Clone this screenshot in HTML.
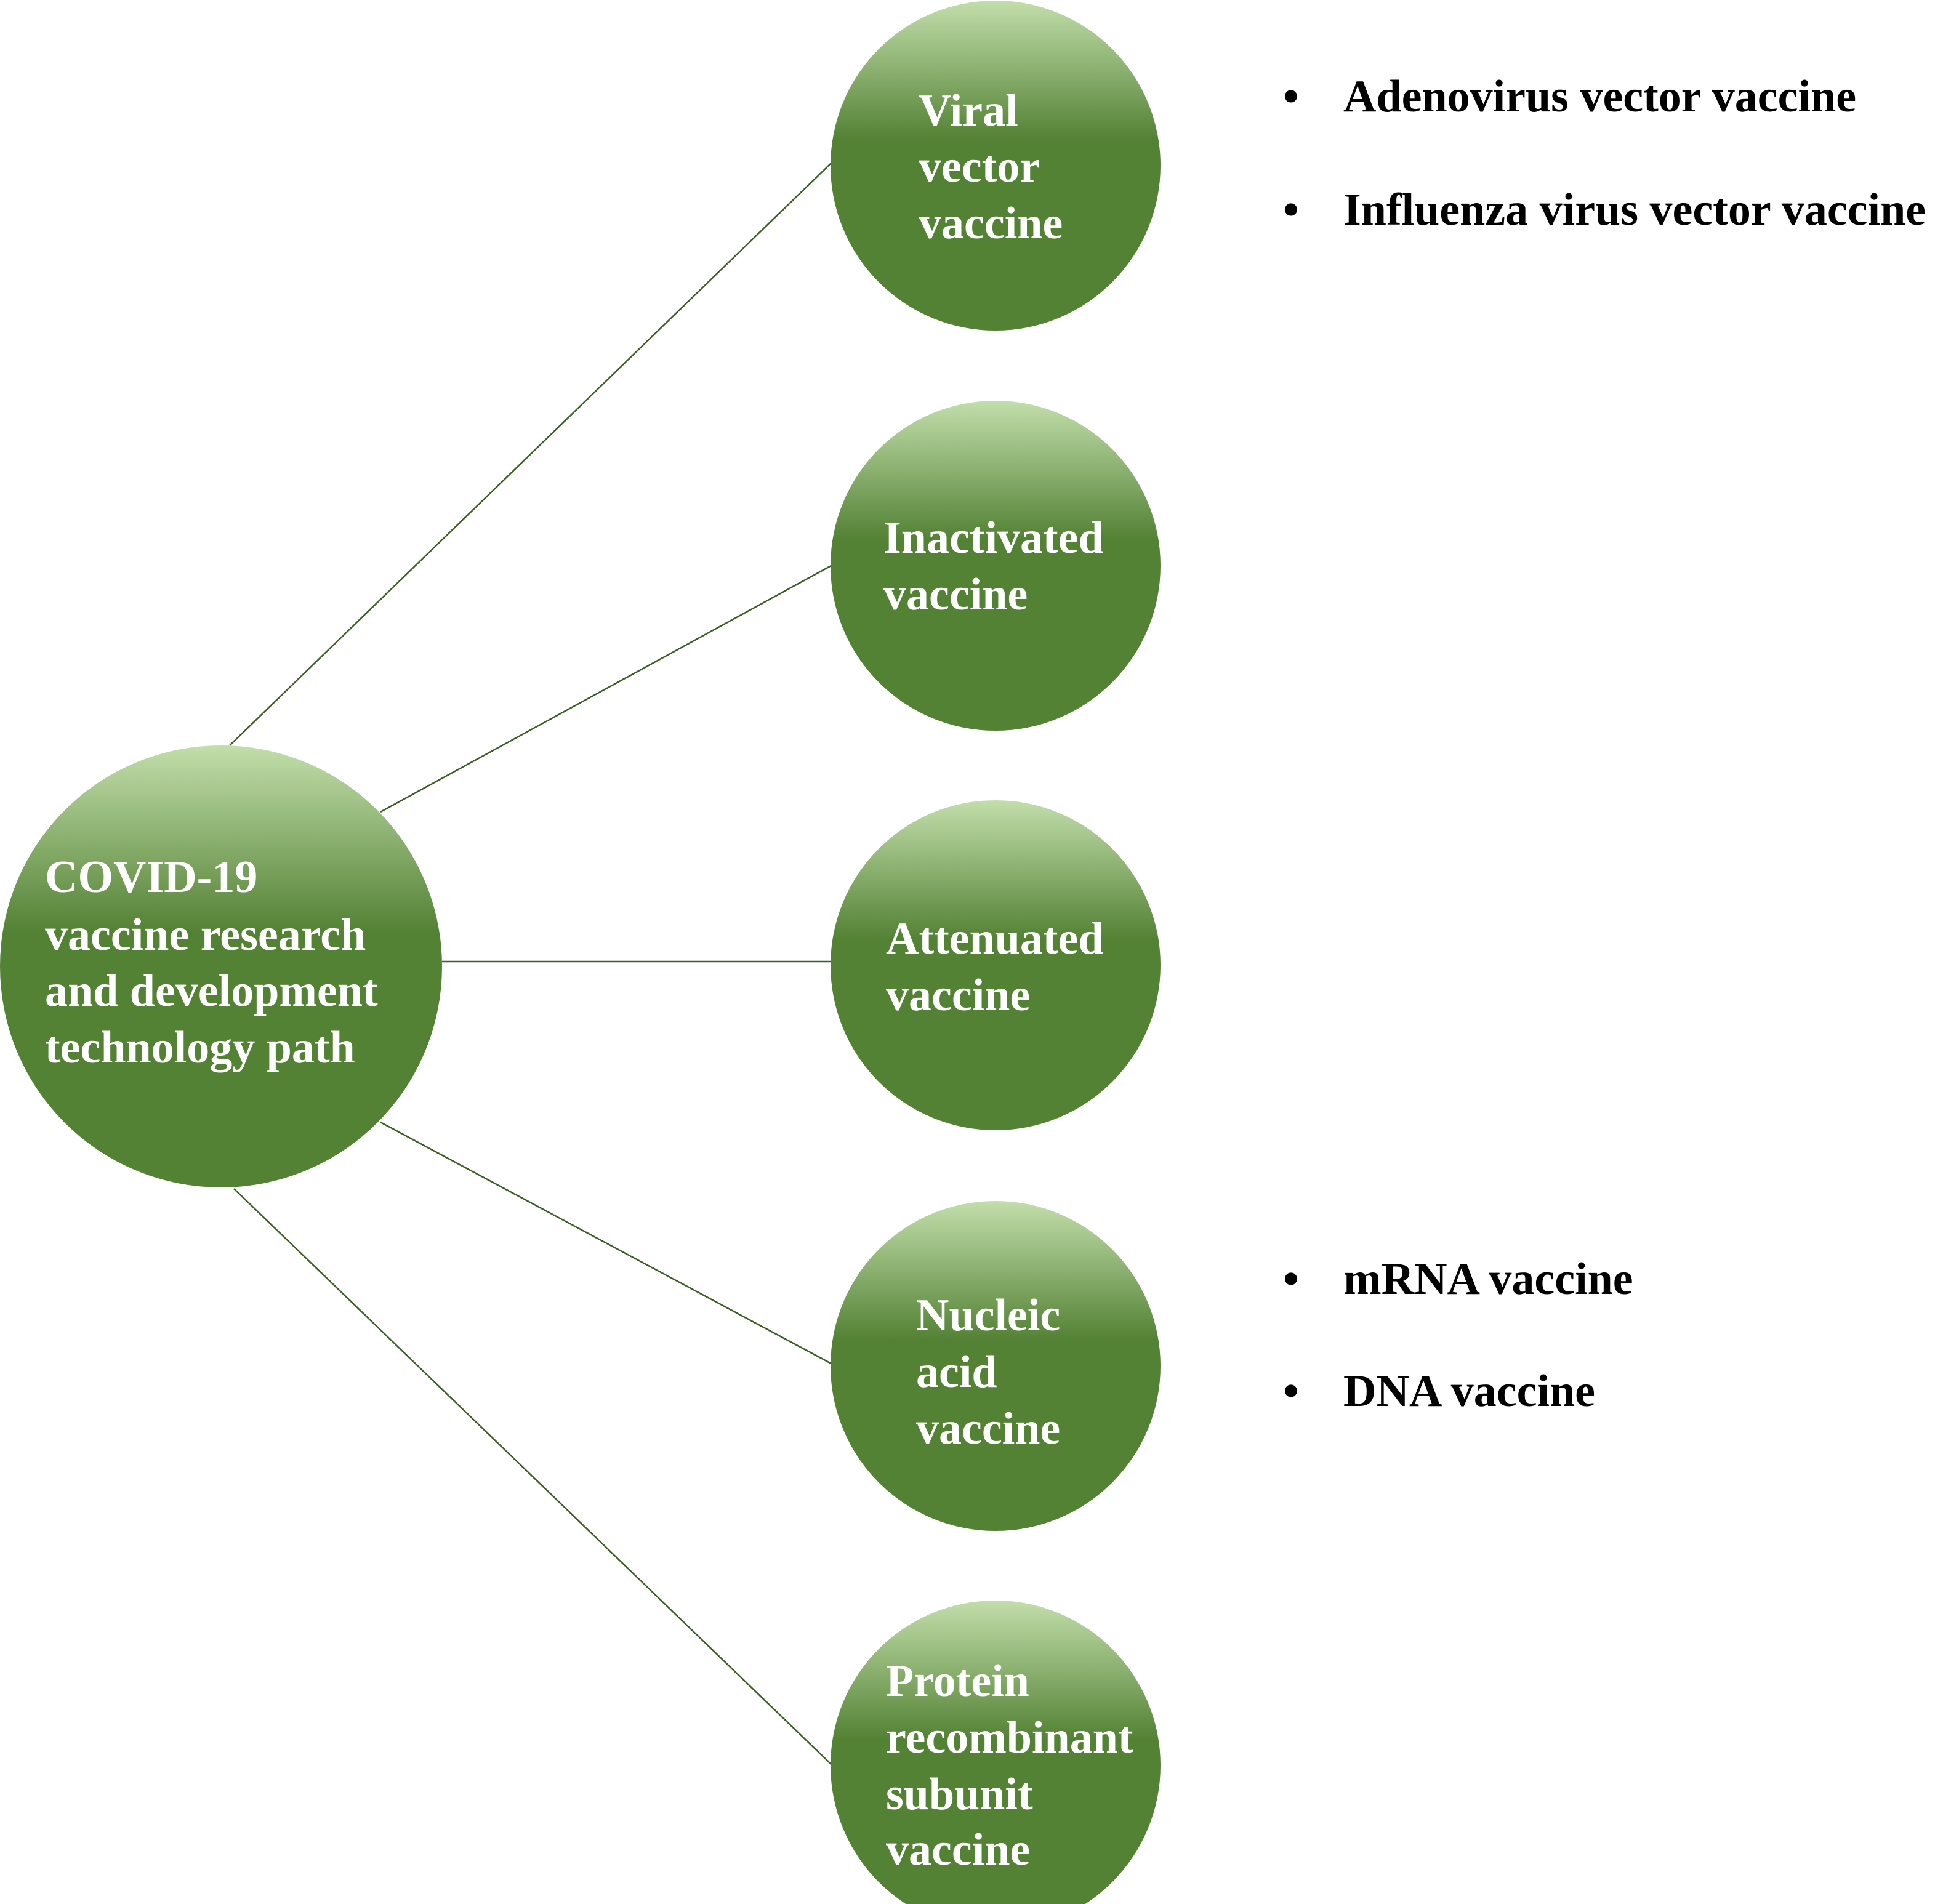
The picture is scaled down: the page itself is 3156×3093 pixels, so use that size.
<!DOCTYPE html>
<html><head><meta charset="utf-8"><style>
html,body{margin:0;padding:0;background:#fff}
svg{display:block}
text{font-family:"Liberation Serif",serif;font-weight:bold;font-size:74px}
.w{fill:#fff}
</style></head><body>
<svg width="3156" height="3093" viewBox="0 0 3156 3093" xmlns="http://www.w3.org/2000/svg">
<defs>
<linearGradient id="g" x1="0" y1="0" x2="0" y2="1">
<stop offset="0" stop-color="#c2deab"/>
<stop offset="0.42" stop-color="#548235"/>
<stop offset="1" stop-color="#548235"/>
</linearGradient>
</defs>
<g stroke="#3b5d22" stroke-width="2.5">
<line x1="373" y1="1211" x2="1350" y2="265"/>
<line x1="618" y1="1319" x2="1350" y2="919"/>
<line x1="718" y1="1562" x2="1350" y2="1562"/>
<line x1="618" y1="1823" x2="1350" y2="2215"/>
<line x1="380" y1="1931" x2="1350" y2="2866"/>
</g>
<circle cx="359" cy="1570" r="359" fill="url(#g)"/>
<circle cx="1617" cy="269" r="268" fill="url(#g)"/>
<circle cx="1617" cy="919" r="268" fill="url(#g)"/>
<circle cx="1617" cy="1568" r="268" fill="url(#g)"/>
<circle cx="1617" cy="2219" r="268" fill="url(#g)"/>
<circle cx="1617" cy="2868" r="268" fill="url(#g)"/>
<g class="w" dominant-baseline="central">
<text x="73" y="1425">COVID-19</text>
<text x="73" y="1519">vaccine research</text>
<text x="73" y="1610">and development</text>
<text x="73" y="1702">technology path</text>
<text x="1492" y="180">Viral</text>
<text x="1492" y="271">vector</text>
<text x="1492" y="363">vaccine</text>
<text x="1435" y="874">Inactivated</text>
<text x="1435" y="966">vaccine</text>
<text x="1439" y="1525">Attenuated</text>
<text x="1439" y="1617">vaccine</text>
<text x="1488" y="2137">Nucleic</text>
<text x="1488" y="2229">acid</text>
<text x="1488" y="2321">vaccine</text>
<text x="1439" y="2731">Protein</text>
<text x="1439" y="2823">recombinant</text>
<text x="1439" y="2915">subunit</text>
<text x="1439" y="3005">vaccine</text>
</g>
<g fill="#000" dominant-baseline="central">
<text x="2084" y="157">•</text><text x="2182" y="157">Adenovirus vector vaccine</text>
<text x="2084" y="341">•</text><text x="2182" y="341">Influenza virus vector vaccine</text>
<text x="2084" y="2078">•</text><text x="2182" y="2078">mRNA vaccine</text>
<text x="2084" y="2260">•</text><text x="2182" y="2260">DNA vaccine</text>
</g>
</svg>
</body></html>
